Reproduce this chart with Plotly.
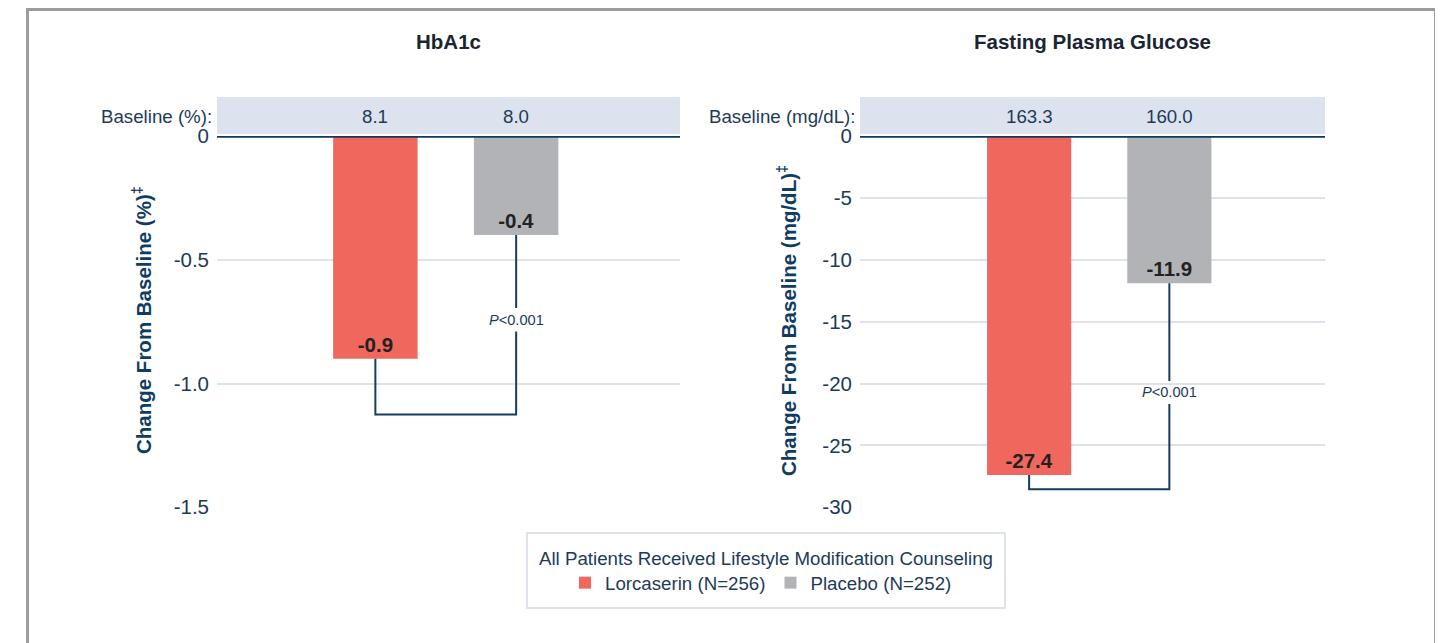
import plotly.graph_objects as go

# ---------------- data ----------------
groups = ["Lorcaserin", "Placebo"]
legend_names = ["Lorcaserin (N=256)", "Placebo (N=252)"]
legend_title = "All Patients Received Lifestyle Modification Counseling"
colors = ["#f0675d", "#b2b3b7"]

hba1c_change = [-0.9, -0.4]
hba1c_baseline = ["8.1", "8.0"]
hba1c_text = ["-0.9", "-0.4"]
hba1c_ticks = [0, -0.5, -1.0, -1.5]
hba1c_ticktext = ["0", "-0.5", "-1.0", "-1.5"]
hba1c_bracket = -1.125
hba1c_p_y = -0.742
hba1c_gap = [-0.695, -0.79]

fpg_change = [-27.4, -11.9]
fpg_baseline = ["163.3", "160.0"]
fpg_text = ["-27.4", "-11.9"]
fpg_ticks = [0, -5, -10, -15, -20, -25, -30]
fpg_ticktext = ["0", "-5", "-10", "-15", "-20", "-25", "-30"]
fpg_bracket = -28.55
fpg_p_y = -20.7
fpg_gap = [-19.8, -21.65]

p_label = "<i>P</i>&lt;0.001"

W, H = 1435, 635
FONT = "Liberation Sans, Arial, sans-serif"
NAVY = "#143d5f"
TEXT = "#1d3b57"
GRID = "#dfe2ea"
FS = 18.7
FSB = 20.5

fig = go.Figure()

panels = [
    dict(change=hba1c_change, text=hba1c_text, base=hba1c_baseline, xa="x", ya="y",
         bracket=hba1c_bracket, p_y=hba1c_p_y, gap=hba1c_gap, legend=True),
    dict(change=fpg_change, text=fpg_text, base=fpg_baseline, xa="x2", ya="y2",
         bracket=fpg_bracket, p_y=fpg_p_y, gap=fpg_gap, legend=False),
]

for p in panels:
    for i, g in enumerate(groups):
        fig.add_trace(go.Bar(
            x=[g], y=[p["change"][i]], text=[p["text"][i]],
            name=legend_names[i], marker=dict(color=colors[i], line=dict(width=0)),
            width=0.6, textposition="inside", insidetextanchor="end",
            textfont=dict(family=FONT, size=FSB, color="#222222", weight="bold"),
            xaxis=p["xa"], yaxis=p["ya"], showlegend=p["legend"], legendgroup=g,
            hoverinfo="skip",
        ))
    c = p["change"]
    fig.add_trace(go.Scatter(
        x=[groups[0], groups[0], groups[1], groups[1], None, groups[1], groups[1]],
        y=[c[0], p["bracket"], p["bracket"], p["gap"][1], None, p["gap"][0], c[1]],
        mode="lines", line=dict(color=NAVY, width=2), connectgaps=False,
        xaxis=p["xa"], yaxis=p["ya"], showlegend=False, hoverinfo="skip",
    ))

dom1 = [209 / W, 672 / W]
dom2 = [852 / W, 1317 / W]
ydom = [1 - 500 / H, 1 - 128 / H]

xcommon = dict(showticklabels=False, showgrid=False, zeroline=False, showline=False,
               ticks="", type="category", categoryorder="array", categoryarray=groups,
               automargin=False)
ycommon = dict(showgrid=True, gridcolor=GRID, gridwidth=1.5, zeroline=False, showline=False,
               ticks="", tickfont=dict(family=FONT, size=20.5, color=TEXT), domain=ydom,
               automargin=False, ticklabelstandoff=7)

fig.update_layout(
    width=W, height=H, autosize=False,
    margin=dict(l=0, r=0, t=0, b=0, pad=0),
    paper_bgcolor="white", plot_bgcolor="white",
    barmode="overlay",
    font=dict(family=FONT, color=TEXT),
    xaxis=dict(domain=dom1, range=[-1.125, 2.164], anchor="y", **xcommon),
    xaxis2=dict(domain=dom2, range=[-1.206, 2.11], anchor="y2", **xcommon),
    yaxis=dict(range=[-1.503, 0], tickvals=hba1c_ticks, ticktext=hba1c_ticktext,
               anchor="x", **ycommon),
    yaxis2=dict(range=[-30.06, 0], tickvals=fpg_ticks, ticktext=fpg_ticktext,
                anchor="x2", **ycommon),
    legend=dict(
        orientation="h", x=753 / W, xanchor="center", y=1 - 575 / H, yanchor="middle",
        borderwidth=0, bgcolor="rgba(0,0,0,0)",
        font=dict(family=FONT, size=FS, color=TEXT),
        itemclick=False, itemdoubleclick=False,
    ),
)

shapes = []
shapes.append(dict(type="rect", xref="paper", yref="paper", x0=19.5 / W, x1=1427.5 / W,
                   y0=-0.1, y1=1 - 1.5 / H, line=dict(color="#9c9c9c", width=3), layer="below"))
# legend box
shapes.append(dict(type="rect", xref="paper", yref="paper", x0=519 / W, x1=997 / W,
                   y0=1 - 600 / H, y1=1 - 525 / H, line=dict(color="#dde2ec", width=2),
                   layer="below"))
for xd, yd in (("x domain", "y"), ("x2 domain", "y2")):
    shapes.append(dict(type="rect", xref=xd, yref="paper", x0=0, x1=1,
                       y0=1 - 126 / H, y1=1 - 89 / H, fillcolor="#dde3ee",
                       line=dict(width=0), layer="below"))
    shapes.append(dict(type="line", xref=xd, yref=yd, x0=0, x1=1, y0=0, y1=0,
                       line=dict(color="#0e3a5c", width=3.5)))
fig.update_layout(shapes=shapes)

ann = []
ann.append(dict(text=legend_title, xref="paper", yref="paper", x=758 / W, y=1 - 550 / H,
                xanchor="center", yanchor="middle", showarrow=False,
                font=dict(family=FONT, size=FS, color=TEXT)))
titles = ["HbA1c", "Fasting Plasma Glucose"]
ytitles = ["Change From Baseline (%)<sup>‡</sup>", "Change From Baseline (mg/dL)<sup>‡</sup>"]
blabels = ["Baseline (%):", "Baseline (mg/dL):"]
ytitle_x = [134 / W, 779 / W]
for k, p in enumerate(panels):
    xd = p["xa"] + " domain"
    ann.append(dict(text=f"<b>{titles[k]}</b>", xref=xd, yref="paper", x=0.5, y=1 - 34 / H,
                    xanchor="center", yanchor="middle", showarrow=False,
                    font=dict(family=FONT, size=FSB, color="#1a2533")))
    ann.append(dict(text=f"<b>{ytitles[k]}</b>", xref="paper", yref="paper",
                    x=ytitle_x[k], y=1 - 312 / H, xanchor="center", yanchor="middle",
                    textangle=-90, showarrow=False,
                    font=dict(family=FONT, size=FSB, color="#0f3c61")))
    ann.append(dict(text=blabels[k], xref=xd, yref="paper", x=-0.007, xanchor="right",
                    y=1 - 108 / H, yanchor="middle", showarrow=False,
                    font=dict(family=FONT, size=FS, color=TEXT)))
    for i, g in enumerate(groups):
        ann.append(dict(text=p["base"][i], xref=p["xa"], yref="paper", x=g, y=1 - 108 / H,
                        xanchor="center", yanchor="middle", showarrow=False,
                        font=dict(family=FONT, size=FS, color=TEXT)))
    ann.append(dict(text=p_label, xref=p["xa"], yref=p["ya"], x=groups[1], y=p["p_y"],
                    xanchor="center", yanchor="middle", showarrow=False,
                    font=dict(family=FONT, size=14.6, color=TEXT)))
fig.update_layout(annotations=ann)

fig.write_html("out.html")
